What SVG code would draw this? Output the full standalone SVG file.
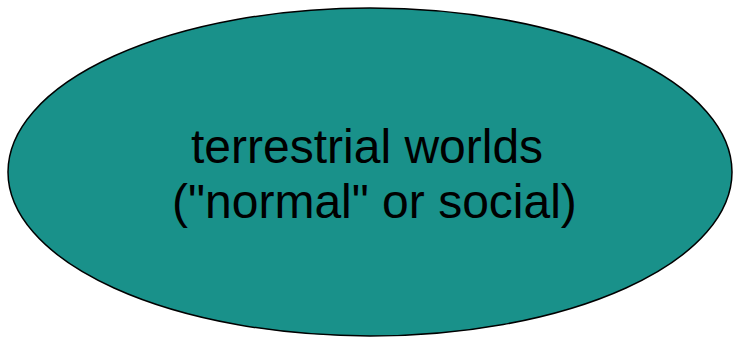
<svg xmlns="http://www.w3.org/2000/svg" width="733" height="339" viewBox="0 0 733 339">
<style>
.node{fill:#19918A;stroke:#000;stroke-width:1.5}
.lbl{font-family:"Liberation Sans",Arial,sans-serif;font-size:48px;fill:#000}
</style>
<rect width="733" height="339" fill="#fff"/>
<g id="connectors"></g>
<g id="node-terrestrial">
<ellipse class="node" cx="370" cy="172" rx="362" ry="164"/>
<text class="lbl" x="191" y="163">terrestrial worlds</text>
<text class="lbl" x="172" y="218">("normal" or social)</text>
</g>
</svg>
